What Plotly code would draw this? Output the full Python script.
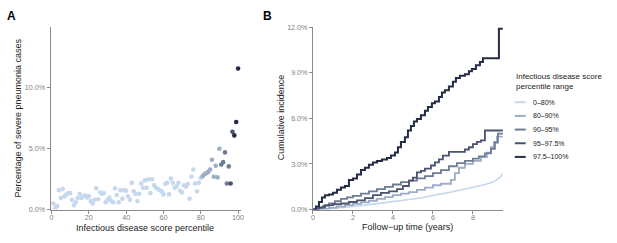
import plotly.graph_objects as go

# ---------------- Panel A data ----------------
percentile = list(range(1, 101))
severe_pct = [
    0.5, 0.1, 0.3, 1.6, 0.95, 1.7, 1.1, 1.25, 1.35, 1.35,
    0.8, 0.35, 0.6, 0.95, 1.3, 0.95, 1.1, 1.15, 1.0, 1.1,
    0.7, 0.5, 0.8, 1.75, 0.85, 1.4, 1.3, 1.35, 0.6, 0.8,
    1.0, 0.7, 0.6, 1.75, 1.2, 0.6, 1.6, 0.9, 1.6, 1.55,
    1.1, 0.8, 2.2, 1.5, 1.3, 0.7, 1.3, 2.15, 1.8, 2.4,
    1.8, 2.5, 1.35, 2.5, 2.0, 1.8, 1.7, 1.6, 1.5, 1.25,
    2.1, 2.2, 1.25, 2.55, 2.2, 1.8, 1.9, 2.2, 1.55, 1.4,
    2.0, 1.9, 2.1, 0.9, 2.7, 3.3, 2.15, 1.5, 2.2, 2.6,
    2.75, 2.9, 3.0, 3.1, 3.3, 4.1, 2.7, 3.6, 2.65, 5.0,
    3.7, 3.9, 4.7, 2.15, 3.55, 2.15, 6.4, 6.1, 7.2, 11.6,
]

# ---------------- Panel B data ----------------
group_labels = ["0\u201380%", "80\u201390%", "90\u201395%", "95\u201397.5%", "97.5\u2013100%"]
group_upper = [80, 90, 95, 97.5, 100]
group_colors = ["#c6d8ee", "#9dadc6", "#6f7c96", "#4a5470", "#242c45"]
follow_end = 9.5

t_0_80 = [0, 0.5, 1, 1.5, 2, 2.5, 3, 3.5, 4, 4.5, 5, 5.5, 6, 6.5, 7, 7.5, 8, 8.5, 9, 9.2, 9.4, 9.5]
v_0_80 = [0, 0.03, 0.08, 0.14, 0.21, 0.28, 0.36, 0.44, 0.53, 0.61, 0.7, 0.8, 0.93, 1.05, 1.18, 1.32, 1.47, 1.62, 1.82, 1.97, 2.2, 2.4]

t_80_90 = [0, 0.4, 0.8, 1.2, 1.6, 2.0, 2.4, 2.8, 3.2, 3.6, 4.0, 4.4, 4.8, 5.2, 5.6, 6.0, 6.4, 6.9, 7.1, 7.3, 7.6, 8.0, 8.4, 8.7, 8.9, 9.05, 9.2]
v_80_90 = [0, 0.05, 0.12, 0.2, 0.3, 0.38, 0.48, 0.58, 0.7, 0.82, 0.95, 1.05, 1.15, 1.3, 1.45, 1.6, 1.7, 1.95, 2.4, 2.75, 3.0, 3.2, 3.45, 3.75, 4.1, 4.45, 4.8]

t_90_95 = [0, 0.2, 0.5, 0.8, 1.1, 1.4, 1.7, 2.0, 2.4, 2.8, 3.2, 3.6, 4.0, 4.4, 4.8, 5.2, 5.6, 6.0, 6.4, 6.8, 7.2, 7.6, 8.0, 8.3, 8.6, 8.9, 9.1, 9.25]
v_90_95 = [0, 0.1, 0.25, 0.4, 0.55, 0.7, 0.8, 0.9, 1.05, 1.2, 1.35, 1.5, 1.65, 1.8, 1.9, 2.05, 2.2, 2.4, 2.6, 2.85, 3.05, 3.2, 3.35, 3.5, 3.7, 4.0, 4.4, 5.0]

t_95_975 = [0, 0.3, 0.6, 1.0, 1.4, 1.8, 2.2, 2.6, 3.0, 3.4, 3.8, 4.2, 4.5, 4.8, 5.0, 5.2, 5.4, 5.6, 5.9, 6.1, 6.3, 6.5, 6.8, 7.6, 7.8, 8.0, 8.2, 8.4, 8.6]
v_95_975 = [0, 0.15, 0.3, 0.35, 0.4, 0.5, 0.6, 0.75, 0.95, 1.1, 1.2, 1.35, 1.55, 1.9, 2.1, 2.45, 2.55, 2.7, 2.9, 3.1, 3.3, 3.55, 3.8, 3.95, 4.1, 4.3, 4.45, 4.55, 5.2]

t_975_100 = [0, 0.15, 0.3, 0.45, 0.6, 0.8, 1.0, 1.2, 1.4, 1.6, 1.8, 2.0, 2.2, 2.4, 2.6, 2.8, 3.0, 3.2, 3.45, 3.7, 3.9, 4.1, 4.25, 4.4, 4.6, 4.75, 4.9, 5.05, 5.2, 5.4, 5.6, 5.75, 5.95, 6.1, 6.3, 6.45, 6.6, 6.8, 7.0, 7.15, 7.35, 7.6, 7.8, 7.95, 8.15, 8.35, 8.5, 9.3]
v_975_100 = [0, 0.2, 0.5, 0.8, 0.95, 1.0, 1.1, 1.3, 1.45, 1.55, 1.95, 2.05, 2.3, 2.6, 2.75, 2.95, 3.1, 3.2, 3.3, 3.4, 3.55, 3.75, 4.1, 4.45, 4.75, 5.2, 5.5, 5.8, 5.95, 6.2, 6.5, 6.75, 7.0, 7.1, 7.4, 7.7, 7.85, 8.1, 8.4, 8.65, 8.8, 8.9, 9.1, 9.25, 9.5, 9.7, 9.95, 11.9]

curves_t = [t_0_80, t_80_90, t_90_95, t_95_975, t_975_100]
curves_v = [v_0_80, v_80_90, v_90_95, v_95_975, v_975_100]

# tick labels
a_xticks = [0, 20, 40, 60, 80, 100]
a_yticks = [0, 5, 10]
b_xticks = [0, 2, 4, 6, 8]
b_yticks = [0, 3, 6, 9, 12]

W, H = 617, 243
FONT = "Liberation Sans, Arial, sans-serif"
AXIS_GRAY = "#8a8a8a"
TICK_GRAY = "#7f7f7f"
TITLE_COL = "#222222"


def px_x(p):
    return p / W


def px_y(p):
    return 1 - p / H


def color_for(p):
    for up, c in zip(group_upper, group_colors):
        if p <= up:
            return c
    return group_colors[-1]


fig = go.Figure()

# Panel A scatter
fig.add_trace(go.Scatter(
    x=percentile, y=severe_pct, mode="markers",
    marker=dict(size=4.6, color=[color_for(p) for p in percentile], line=dict(width=0)),
    xaxis="x", yaxis="y", showlegend=False, hoverinfo="skip",
))

# Panel B curves
for i, (tt, vv) in enumerate(zip(curves_t, curves_v)):
    xs = list(tt)
    ys = list(vv)
    if xs[-1] < follow_end:
        xs.append(follow_end)
        ys.append(ys[-1])
    fig.add_trace(go.Scatter(
        x=xs, y=ys, mode="lines",
        line=dict(color=group_colors[i], width=1.6 if i == 0 else (2.0 if i == 4 else 1.8),
                  shape="spline" if i == 0 else "hv"),
        xaxis="x2", yaxis="y2", showlegend=False, hoverinfo="skip",
    ))

axis_common = dict(
    showgrid=False, zeroline=False, showline=True, linecolor=AXIS_GRAY, linewidth=1,
    ticks="outside", ticklen=3, tickcolor=AXIS_GRAY, tickwidth=1,
    tickfont=dict(family=FONT, size=7.2, color=TICK_GRAY),
)

y_dom = [px_y(213.5), px_y(24)]
fig.update_layout(
    width=W, height=H,
    margin=dict(l=0, r=0, t=0, b=0),
    paper_bgcolor="white", plot_bgcolor="white",
    font=dict(family=FONT),
    hovermode=False,
    xaxis=dict(domain=[px_x(49), px_x(241)], range=[-0.5, 101.6], tickvals=a_xticks,
               ticktext=[str(v) for v in a_xticks], anchor="y", ticklabelstandoff=-2,
               **axis_common),
    yaxis=dict(domain=y_dom, range=[0, 15], tickvals=a_yticks,
               ticktext=[f"{v:.1f}%" for v in a_yticks], anchor="x", **axis_common),
    xaxis2=dict(domain=[px_x(313.5), px_x(505)], range=[0, follow_end], tickvals=b_xticks,
                ticktext=[str(v) for v in b_xticks], anchor="y2", ticklabelstandoff=-2,
                **axis_common),
    yaxis2=dict(domain=y_dom, range=[0, 12], tickvals=b_yticks,
                ticktext=[f"{v:.1f}%" for v in b_yticks], anchor="x2", **axis_common),
)

ann = []
# panel letters
ann.append(dict(text="<b>A</b>", x=px_x(3), y=px_y(3), xref="paper", yref="paper",
                xanchor="left", yanchor="top", showarrow=False,
                font=dict(family=FONT, size=12, color="#000")))
ann.append(dict(text="<b>B</b>", x=px_x(261), y=px_y(3), xref="paper", yref="paper",
                xanchor="left", yanchor="top", showarrow=False,
                font=dict(family=FONT, size=12, color="#000")))
# axis titles
title_font = dict(family=FONT, size=9, color=TITLE_COL)
ann.append(dict(text="Percentage of severe pneumonia cases", x=px_x(16), y=px_y(118),
                xref="paper", yref="paper", textangle=-90, showarrow=False,
                xanchor="center", yanchor="middle", font=title_font))
ann.append(dict(text="Infectious disease score percentile", x=px_x(144), y=px_y(232.5),
                xref="paper", yref="paper", showarrow=False,
                xanchor="center", yanchor="middle", font=title_font))
ann.append(dict(text="Cumulative incidence", x=px_x(281), y=px_y(118),
                xref="paper", yref="paper", textangle=-90, showarrow=False,
                xanchor="center", yanchor="middle", font=title_font))
ann.append(dict(text="Follow\u2212up time (years)", x=px_x(409), y=px_y(232),
                xref="paper", yref="paper", showarrow=False,
                xanchor="center", yanchor="middle", font=title_font))
# legend title
ann.append(dict(text="Infectious disease score<br>percentile range", x=px_x(516), y=px_y(69),
                xref="paper", yref="paper", showarrow=False, align="left",
                xanchor="left", yanchor="top", font=dict(family=FONT, size=8, color=TITLE_COL)))

shapes = []
leg_y0 = 102
leg_dy = 14.2
for i, lab in enumerate(group_labels):
    yy = leg_y0 + i * leg_dy
    shapes.append(dict(type="line", xref="paper", yref="paper",
                       x0=px_x(517), x1=px_x(528), y0=px_y(yy), y1=px_y(yy),
                       line=dict(color=group_colors[i], width=2)))
    ann.append(dict(text=lab, x=px_x(533), y=px_y(yy), xref="paper", yref="paper",
                    showarrow=False, xanchor="left", yanchor="middle",
                    font=dict(family=FONT, size=7, color=TITLE_COL)))

fig.update_layout(annotations=ann, shapes=shapes)

fig.write_html(
    "out.html",
    config={"displayModeBar": False, "staticPlot": True},
    post_script="document.body.style.margin='0';document.body.style.overflow='hidden';",
)
